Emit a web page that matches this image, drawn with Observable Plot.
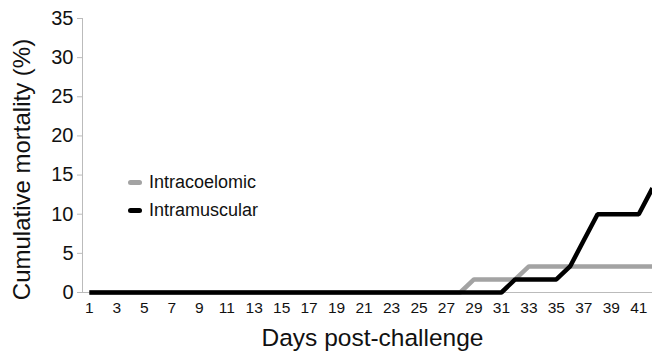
<!DOCTYPE html>
<html><head><meta charset="utf-8">
<script src="https://cdn.jsdelivr.net/npm/d3@7"></script>
<script src="https://cdn.jsdelivr.net/npm/@observablehq/plot@0.6"></script>
<style>
body{margin:0;background:#fff;font-family:"Liberation Sans",Arial,sans-serif;}
#wrap{position:relative;width:652px;height:353px;}
.legend{position:absolute;left:128px;top:168px;font-size:18px;color:#111;}
.legend div{display:flex;align-items:center;height:28px;}
.legend span.sw{display:inline-block;width:14px;height:5px;border-radius:2.5px;margin-right:7px;}
</style></head>
<body><div id="wrap"></div>
<script>
const days = d3.range(1, 43);
const seriesNames = ["Intracoelomic", "Intramuscular"];
const seriesColors = ["#a3a3a3", "#000000"];
const intracoelomic = [0,0,0,0,0,0,0,0,0,0,0,0,0,0,0,0,0,0,0,0,0,0,0,0,0,0,0,0,1.67,1.67,1.67,1.67,3.33,3.33,3.33,3.33,3.33,3.33,3.33,3.33,3.33,3.33];
const intramuscular = [0,0,0,0,0,0,0,0,0,0,0,0,0,0,0,0,0,0,0,0,0,0,0,0,0,0,0,0,0,0,0,1.67,1.67,1.67,1.67,3.33,6.67,10,10,10,10,13.33];
const xTicks = d3.range(1, 42, 2);
const yTicks = [0,5,10,15,20,25,30,35];

const data = [];
days.forEach((d,i)=>{
  data.push({day:d, value:intracoelomic[i], series:seriesNames[0]});
  data.push({day:d, value:intramuscular[i], series:seriesNames[1]});
});

const chart = Plot.plot({
  width: 652, height: 353,
  marginLeft: 82, marginRight: 0, marginTop: 18, marginBottom: 61,
  style: {fontFamily: '"Liberation Sans", Arial, sans-serif', fontSize: "15px", color: "#111", background: "#fff"},
  x: {domain: [0.5, 42], label: null},
  y: {domain: [0, 35], label: null},
  color: {domain: seriesNames, range: seriesColors},
  marks: [
    Plot.ruleX([0.5], {stroke: "#bbb", strokeWidth: 1}),
    Plot.ruleY([0], {stroke: "#bbb", strokeWidth: 1}),
    Plot.axisY({ticks: yTicks, tickSize: 5, tickPadding: 4, stroke: "#bbb", fontSize: 20, label: null}),
    Plot.axisX({ticks: xTicks, tickSize: 0, tickPadding: 9, fontSize: 15.5, label: null}),
    Plot.line(data, {x: "day", y: "value", stroke: "series", z: "series", strokeWidth: 4.5, strokeLinejoin: "miter", strokeLinecap: "butt"}),
    Plot.text(["Cumulative mortality (%)"], {frameAnchor: "left", textAnchor: "middle", lineAnchor: "middle", dx: -60, dy: 14, rotate: -90, fontSize: 24, text: d=>d}),
    Plot.text(["Days post-challenge"], {frameAnchor: "bottom", textAnchor: "middle", lineAnchor: "middle", dy: 46, dx: 5, fontSize: 24.5, text: d=>d})
  ]
});
const wrap = document.getElementById("wrap");
wrap.appendChild(chart);
const lg = document.createElement("div");
lg.className = "legend";
seriesNames.forEach((n,i)=>{
  const row = document.createElement("div");
  row.innerHTML = `<span class="sw" style="background:${seriesColors[i]}"></span>${n}`;
  lg.appendChild(row);
});
wrap.appendChild(lg);
</script></body></html>
